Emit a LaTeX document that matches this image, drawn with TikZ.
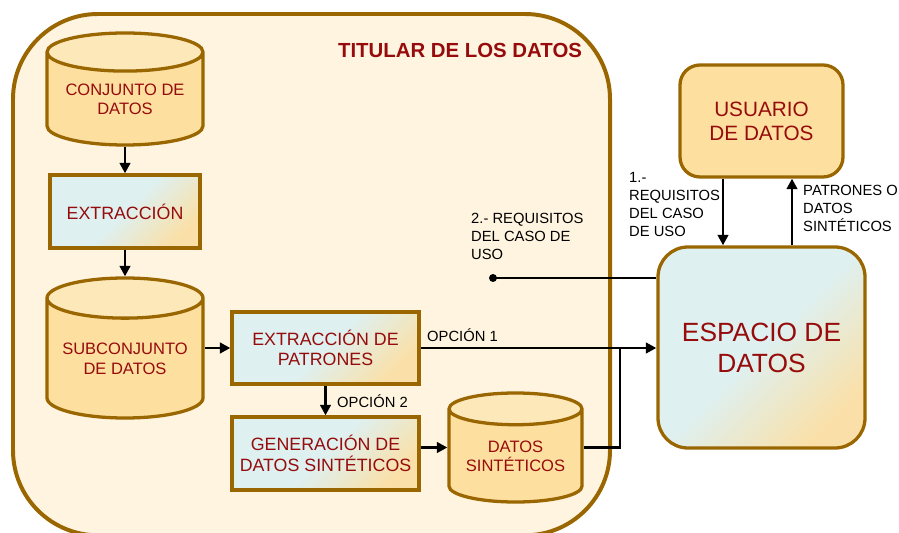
\documentclass[tikz,border=0pt]{standalone}
\usepackage{fontspec}
\setmainfont{Liberation Sans}
\usetikzlibrary{shapes.geometric, arrows.meta}
\definecolor{DarkGold}{RGB}{153,102,0}
\definecolor{DarkRed}{RGB}{150,12,12}
\definecolor{Cream}{RGB}{255,244,224}
\definecolor{CylBody}{RGB}{253,223,160}
\definecolor{CylTop}{RGB}{253,232,186}
\definecolor{BoxBlue}{RGB}{222,240,240}
\definecolor{BoxSand}{RGB}{250,224,168}

\begin{document}
\begin{tikzpicture}[scale=1,
  rim/.style={draw=DarkGold,line width=2.8pt},
  dbcyl/.style={rim,cylinder,shape border rotate=90,aspect=0.32,cylinder uses custom fill,cylinder body fill=CylBody,cylinder end fill=CylTop,text=DarkRed,align=center,inner sep=0pt,anchor=shape center,font=\fontsize{14.1}{16.5}\selectfont},
  procbox/.style={rim,rectangle,top color=BoxBlue,bottom color=BoxSand,middle color=BoxBlue,shading angle=45,text=DarkRed,align=center,font=\fontsize{15.2}{17.6}\selectfont},
  flow/.style={line width=2.4pt,-{Triangle[length=9pt,width=9pt]}},
  note/.style={align=left,inner sep=0pt,font=\fontsize{12.6}{15.4}\selectfont}]
          \useasboundingbox (0,0) rectangle (26.97,15.96);
          \clip (0,0) rectangle (26.97,15.96);
          % data holder
          \draw[rim,line width=3.4pt,fill=Cream,rounded corners=2.55cm] (0.39,-0.1) rectangle (18.3,15.54);
          \node[text=DarkRed,font=\bfseries\fontsize{17.4}{20}\selectfont] (titu) at (13.8,14.46) {TITULAR DE LOS DATOS};
          \node[dbcyl,minimum width=4.68cm,minimum height=3.36cm] (conj) at (3.75,13.29) {CONJUNTO DE\\DATOS};
          \node[procbox,minimum width=4.5cm,minimum height=2.19cm] (extr) at (3.75,9.615) {EXTRACCIÓN};
          \node[dbcyl,minimum width=4.68cm,minimum height=4.2cm] (subc) at (3.75,5.52) {SUBCONJUNTO\\DE DATOS};
          \node[procbox,minimum width=5.61cm,minimum height=2.16cm] (patr) at (9.765,5.52) {EXTRACCIÓN DE\\PATRONES};
          \node[procbox,minimum width=5.61cm,minimum height=2.19cm] (gene) at (9.765,2.355) {GENERACIÓN DE\\DATOS SINTÉTICOS};
          \node[dbcyl,minimum width=3.99cm,minimum height=3.27cm] (sint) at (15.465,2.535) {DATOS\\SINTÉTICOS};
          % data space and user
          \node[procbox,rounded corners=0.9cm,minimum width=6.21cm,minimum height=6.03cm,font=\fontsize{22.5}{26.5}\selectfont] (espa) at (22.845,5.535) {ESPACIO DE\\DATOS};
          \node[rim,fill=CylBody,rounded corners=0.6cm,minimum width=4.89cm,minimum height=3.36cm,text=DarkRed,align=center,font=\fontsize{17.7}{20.5}\selectfont] (usua) at (22.845,12.33) {USUARIO\\DE DATOS};
          % flows
          \draw[flow] (conj.south) -- (extr.north);
          \draw[flow] (extr.south) -- (subc.north);
          \draw[flow] (subc.east |- patr.west) -- (patr.west);
          \draw[flow] (patr.east) -- (espa.west |- patr.east);
          \node[note,anchor=west] (opc1) at (12.81,5.9) {OPCIÓN 1};
          \draw[flow] (patr.south) -- (gene.north);
          \node[note,anchor=west] (opc2) at (10.11,3.92) {OPCIÓN 2};
          \draw[flow] (gene.east |- sint.shape center) -- (sint.west |- sint.shape center);
          \coordinate (junc) at (18.6,5.52);
          \draw[line width=2.4pt] (sint.east |- sint.shape center) -| (junc);
          \coordinate (req) at (14.79,7.62);
          \draw[line width=2.4pt] (req) -- (req -| espa.west);
          \fill (req) circle (0.12);
          \node[note,anchor=north west] (req2) at (14.13,9.57) {2.- REQUISITOS\\DEL CASO DE\\USO};
          \coordinate (down) at (21.69,0);
          \coordinate (up) at (23.76,0);
          \draw[flow] (down |- usua.south) -- (down |- espa.north);
          \draw[flow] (up |- espa.north) -- (up |- usua.south);
          \node[note,anchor=north west] (req1) at (18.87,10.8) {1.-\\REQUISITOS\\DEL CASO\\DE USO};
          \node[note,anchor=north west] (devu) at (24.09,10.41) {PATRONES O\\DATOS\\SINTÉTICOS};
        \end{tikzpicture}
\end{document}
